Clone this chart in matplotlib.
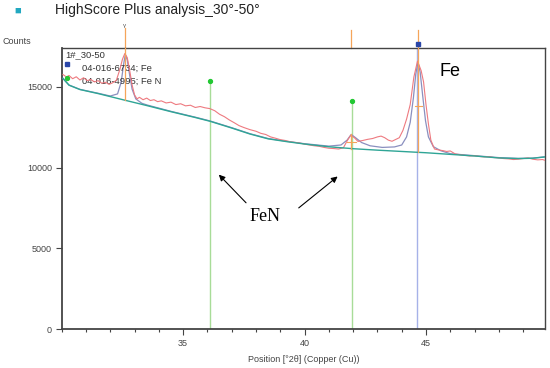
import numpy as np
import matplotlib.pyplot as plt
from matplotlib.ticker import MultipleLocator
import matplotlib.transforms as mtransforms

plt.rcParams['font.family'] = ['Liberation Sans', 'DejaVu Sans']

# observed pattern (red)
obs_x = [30.05, 30.2, 30.3, 30.45, 30.6, 30.75, 30.9, 31.05, 31.2, 31.35, 31.5, 31.65,
         31.8, 31.95, 32.1, 32.25, 32.4, 32.5, 32.6, 32.7, 32.8, 32.9, 33.0, 33.1,
         33.2, 33.35, 33.5, 33.65, 33.8, 33.95, 34.1, 34.3, 34.5, 34.7, 34.9, 35.1,
         35.3, 35.5, 35.7, 35.9, 36.1, 36.3, 36.5, 36.7, 36.9, 37.1, 37.3, 37.5,
         37.75, 38.0, 38.2, 38.4, 38.6, 38.8, 39.0, 39.2, 39.4, 39.6, 39.8, 40.0,
         40.2, 40.4, 40.6, 40.8, 41.0, 41.2, 41.4, 41.6, 41.75, 41.9, 42.05, 42.2,
         42.4, 42.6, 42.8, 43.0, 43.15, 43.3, 43.45, 43.6, 43.75, 43.9, 44.05, 44.2,
         44.35, 44.5, 44.65, 44.8, 44.9, 45.0, 45.1, 45.2, 45.35, 45.5, 45.7, 45.85,
         46.0, 46.2, 46.4, 46.6, 46.8, 47.0, 47.2, 47.4, 47.6, 47.8, 48.0, 48.2,
         48.4, 48.6, 48.8, 49.0, 49.2, 49.4, 49.6, 49.8, 49.9]
obs_y = [15760, 15600, 15700, 15500, 15620, 15420, 15560, 15380, 15450, 15300, 15380, 15220,
         15280, 15150, 15250, 15400, 16100, 16700, 17060, 16800, 16000, 15100, 14500, 14250,
         14350, 14200, 14300, 14150, 14200, 14080, 14130, 14000, 14050, 13900, 13950, 13820,
         13860, 13720, 13780, 13700, 13650, 13520, 13300, 13150, 12950, 12780, 12600, 12480,
         12350, 12250, 12120, 12050, 11900, 11820, 11730, 11680, 11600, 11560, 11520, 11450,
         11400, 11350, 11320, 11250, 11200, 11180, 11150, 11230, 11650, 12000, 11850, 11620,
         11680, 11750, 11800, 11900, 11950, 11850, 11700, 11630, 11740, 11850, 12300, 13000,
         13900, 15600, 16590, 16000, 15300, 13900, 12700, 11700, 11150, 11100, 11050, 11000,
         11030, 10850, 10800, 10760, 10720, 10740, 10690, 10660, 10680, 10620, 10600, 10560,
         10540, 10500, 10520, 10560, 10600, 10520, 10480, 10500, 10450]

# calculated profile (grey-blue)
calc_x = [30.05, 30.3, 30.75, 31.5, 32.0, 32.3, 32.45, 32.55, 32.62, 32.7, 32.8, 32.9,
          33.05, 33.3, 33.5, 34.5, 35.5, 36.1, 37.0, 37.75, 38.5, 39.3, 40.0, 41.0,
          41.5, 41.75, 41.92, 42.1, 42.35, 42.7, 43.2, 43.7, 44.0, 44.2, 44.35, 44.48,
          44.58, 44.67, 44.76, 44.86, 44.98, 45.1, 45.3, 45.6, 46.0, 47.0, 48.0, 48.8,
          49.4, 49.9]
calc_y = [15520, 15110, 14840, 14600, 14430, 14560, 15300, 16400, 17000, 16650, 15700, 14850,
          14250, 13980, 13880, 13480, 13120, 12890, 12470, 12100, 11800, 11620, 11480, 11330,
          11400, 11700, 12050, 11850, 11550, 11350, 11250, 11280, 11400, 11900, 12800, 14300,
          15800, 16520, 15900, 14500, 12900, 11900, 11300, 11050, 10860, 10740, 10620, 10570,
          10590, 10670]

# background (teal)
bg_x = [30.05, 30.3, 30.75, 31.5, 32.6, 33.5, 34.5, 35.5, 36.1, 37.0, 37.75, 38.5,
        39.3, 40.0, 41.0, 42.0, 43.0, 44.0, 45.0, 46.0, 47.0, 48.0, 48.8, 49.4, 49.9]
bg_y = [15520, 15100, 14830, 14580, 14170, 13840, 13460, 13100, 12870, 12450, 12080, 11780,
        11600, 11460, 11290, 11170, 11080, 11000, 10920, 10820, 10720, 10600, 10560, 10580, 10660]

# reference lines
fen_pos = [36.12, 41.96]
fen_top = [15350, 14100]
fe_pos = 44.63
peak_pos = [32.6, 41.92, 44.67]
peak_base = [14170, 11175, 10950]
peak_half = [None, 11600, 13800]

fig = plt.figure(figsize=(5.5, 3.68), dpi=100)
ax = fig.add_axes([0.1122, 0.1052, 0.8787, 0.7644])

ax.plot(obs_x, obs_y, color='#ee7a80', lw=0.8, zorder=4)
ax.plot(calc_x, calc_y, color='#8a8fbf', lw=0.9, zorder=3)
ax.plot(bg_x, bg_y, color='#2fa596', lw=1.0, zorder=5)

for xp, yt in zip(fen_pos, fen_top):
    ax.plot([xp, xp], [0, yt], color='#a8dc98', lw=1.0, zorder=2)
    ax.plot([xp], [yt], 'o', color='#22c832', ms=2.8, zorder=6)
ax.plot([fe_pos, fe_pos], [0, 17400], color='#a6b2e8', lw=1.0, zorder=2)

trans = mtransforms.blended_transform_factory(ax.transData, ax.transAxes)
# orange peak sticks
ax.plot([peak_pos[0], peak_pos[0]], [peak_base[0], 17400], color='#f5a55a', lw=0.9, zorder=6)
ax.plot([peak_pos[1], peak_pos[1]], [peak_base[1], 12050], color='#f5a55a', lw=0.9, zorder=6)
ax.plot([peak_pos[2], peak_pos[2]], [peak_base[2], 17400], color='#f5a55a', lw=0.9, zorder=6)
ax.plot([41.76, 42.1], [peak_half[1], peak_half[1]], color='#f5a55a', lw=0.8, zorder=6)
ax.plot([44.55, 44.82], [peak_half[2], peak_half[2]], color='#f5a55a', lw=0.8, zorder=6)
for xp, ytop in zip(peak_pos, [1.072, 1.064, 1.064]):
    ax.plot([xp, xp], [1.0, ytop], color='#f5a55a', lw=0.9, transform=trans, clip_on=False)
ax.plot([44.67], [1.014], 's', color='#2a46a8', ms=3, transform=trans, clip_on=False, zorder=7)
ax.text(32.6, 1.072, 'γ', transform=trans, fontsize=4.5, color='#555555', ha='center', va='bottom')

# legend inside
ax.text(30.15, 17000, '1#_30-50', fontsize=6.8, color='#333333', va='center')
ax.plot([30.2], [16430], 's', color='#2a46a8', ms=3, zorder=7)
ax.text(30.85, 16150, '04-016-6734; Fe', fontsize=6.8, color='#333333', va='center')
ax.plot([30.2], [15520], 'o', color='#22c832', ms=2.8, zorder=7)
ax.text(30.85, 15330, '04-016-4995; Fe N', fontsize=6.8, color='#333333', va='center')

ax.text(45.98, 15950, 'Fe', fontsize=13, color='black', ha='center', va='center')
ax.text(38.37, 7000, 'FeN', fontsize=13, color='black', ha='center', va='center',
        family='Liberation Serif')
ax.annotate('', xy=(36.39, 9690), xytext=(37.67, 7700),
            arrowprops=dict(arrowstyle='-|>', color='black', lw=0.8, mutation_scale=9))
ax.annotate('', xy=(41.45, 9560), xytext=(39.67, 7400),
            arrowprops=dict(arrowstyle='-|>', color='black', lw=0.8, mutation_scale=9))

ax.set_xlim(30, 49.9)
ax.set_ylim(0, 17400)
ax.set_xticks([35, 40, 45])
ax.xaxis.set_minor_locator(MultipleLocator(1))
ax.set_yticks([0, 5000, 10000, 15000])
ax.tick_params(axis='both', which='major', labelsize=6.5, labelcolor='#444444',
               color='#444444', length=4, width=0.8, pad=3)
ax.tick_params(axis='x', which='minor', color='#444444', length=2.5, width=0.8)
for s in ax.spines.values():
    s.set_color('#444444')
    s.set_linewidth(1.0)
ax.spines['left'].set_linewidth(1.3)
ax.spines['bottom'].set_linewidth(1.3)

ax.set_xlabel('Position [°2θ] (Copper (Cu))', fontsize=6.5, color='#444444', labelpad=5)
fig.text(0.005, 0.888, 'Counts', fontsize=6.5, color='#444444', va='center')

fig.text(0.026, 0.972, '■', fontsize=8, color='#22a8c0', va='center')
fig.text(0.1, 0.972, 'HighScore Plus analysis_30°-50°', fontsize=10, color='#222222', va='center')

fig.savefig('out.png', dpi=100)
